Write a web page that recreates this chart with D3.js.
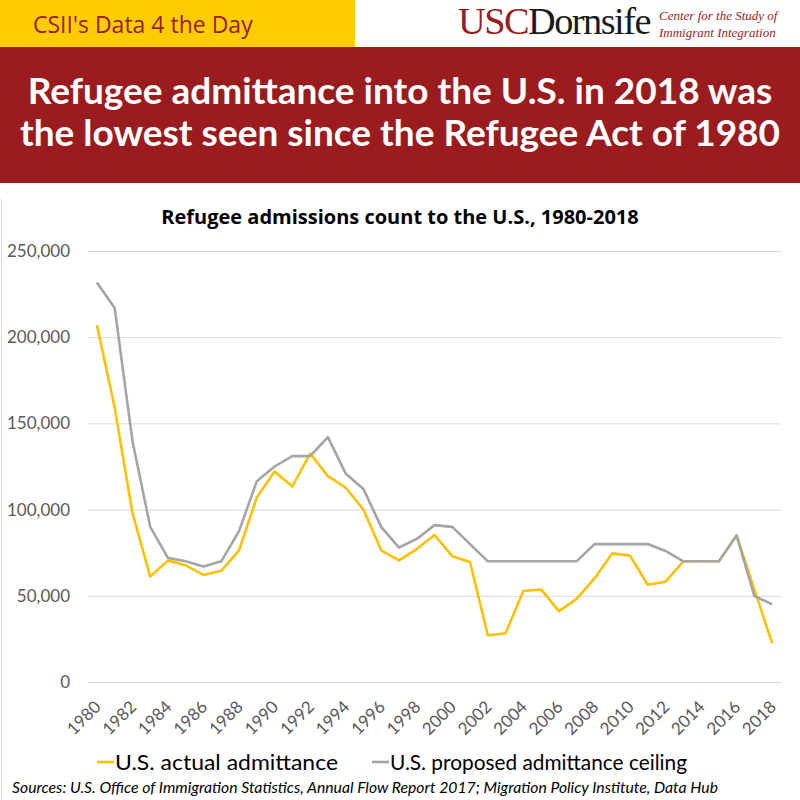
<!DOCTYPE html>
<html>
<head>
<meta charset="utf-8">
<script src="https://cdn.jsdelivr.net/npm/d3@7/dist/d3.min.js"></script>
<style>
  body { margin: 0; background: #fff; }
  svg { display: block; }
</style>
</head>
<body>
<div id="chart"></div>
<script>
// data
const years = d3.range(1980, 2019);
const actualAdmittance = [
  207100, 159300, 98100, 61200, 70400, 67700, 62100, 64500, 76400, 107000,
  122100, 113400, 132500, 119400, 112700, 100000, 76400, 70500, 77100, 85300,
  73000, 69600, 27100, 28300, 52800, 53700, 41100, 48200, 60100, 74600,
  73300, 56400, 58200, 69900, 70000, 69900, 85000, 53700, 22500
];
const ceiling = [
  231700, 217000, 140000, 90000, 72000, 70000, 67000, 70000, 87500, 116500,
  125000, 131000, 131000, 142000, 121000, 112000, 90000, 78000, 83000, 91000,
  90000, 80000, 70000, 70000, 70000, 70000, 70000, 70000, 80000, 80000,
  80000, 80000, 76000, 70000, 70000, 70000, 85000, 50000, 45000
];
const yTicks = [0, 50000, 100000, 150000, 200000, 250000];
const xTickYears = years.filter(y => y % 2 === 0);
const seriesNames = ['U.S. actual admittance', 'U.S. proposed admittance ceiling'];
const seriesColors = ['#ffc000', '#a5a5a5'];

const W = 800, H = 800;
const svg = d3.select('#chart').append('svg')
  .attr('width', W)
  .attr('height', H);

// header strip
svg.append('rect').attr('x', 0).attr('y', 0).attr('width', 355).attr('height', 47).attr('fill', '#ffcc00');
svg.append('text')
  .attr('x', 33).attr('y', 33)
  .attr('font-family', 'Open Sans, sans-serif')
  .attr('font-size', 23)
  .attr('fill', '#9b1c1f')
  .text("CSII's Data 4 the Day");

// logo
const logo = svg.append('text')
  .attr('x', 458).attr('y', 34)
  .attr('textLength', 192)
  .attr('lengthAdjust', 'spacingAndGlyphs')
  .attr('font-family', 'Liberation Serif, serif')
  .attr('font-size', 38)
  .attr('letter-spacing', -1.5);
logo.append('tspan').attr('fill', '#9a1c1f').text('USC');
logo.append('tspan').attr('fill', '#1a1a1a').text('Dornsife');
svg.append('text')
  .attr('x', 659).attr('y', 20)
  .attr('font-family', 'Liberation Serif, serif').attr('font-style', 'italic')
  .attr('font-size', 13).attr('fill', '#9a1c1f')
  .text('Center for the Study of');
svg.append('text')
  .attr('x', 659).attr('y', 37)
  .attr('font-family', 'Liberation Serif, serif').attr('font-style', 'italic')
  .attr('font-size', 13).attr('fill', '#9a1c1f')
  .text('Immigrant Integration');

// red banner
svg.append('rect').attr('x', 0).attr('y', 47).attr('width', W).attr('height', 136).attr('fill', '#9a1c1f');
const titleLines = [
  'Refugee admittance into the U.S. in 2018 was',
  'the lowest seen since the Refugee Act of 1980'
];
svg.selectAll('text.headline')
  .data(titleLines)
  .enter()
  .append('text')
  .attr('class', 'headline')
  .attr('x', 400)
  .attr('y', (d, i) => 104 + i * 42)
  .attr('text-anchor', 'middle')
  .attr('font-family', 'Lato, sans-serif')
  .attr('font-weight', 'bold')
  .attr('font-size', 37)
  .attr('fill', '#fff')
  .text(d => d);

// chart frame (left edge is visible in the reference)
svg.append('line')
  .attr('x1', 1.5).attr('x2', 1.5).attr('y1', 199).attr('y2', H)
  .attr('stroke', '#d9d9d9');

svg.append('text')
  .attr('x', 400).attr('y', 224)
  .attr('text-anchor', 'middle')
  .attr('font-family', 'Open Sans, sans-serif')
  .attr('font-weight', 'bold')
  .attr('font-size', 20)
  .attr('fill', '#000')
  .text('Refugee admissions count to the U.S., 1980-2018');

// scales
const x = d3.scaleBand()
  .domain(years)
  .range([88, 781]);
const y = d3.scaleLinear()
  .domain([0, 250000])
  .range([682, 251]);
const cx = d => x(d) + x.bandwidth() / 2;

// gridlines + y axis
const yAxis = svg.append('g')
  .attr('transform', 'translate(88,0)')
  .call(d3.axisLeft(y).tickValues(yTicks).tickSize(-693).tickPadding(18).tickFormat(d3.format(',')));
yAxis.select('.domain').remove();
yAxis.selectAll('.tick line').attr('stroke', '#d9d9d9');
yAxis.selectAll('.tick text')
  .attr('font-family', 'Lato, sans-serif')
  .attr('font-size', 17)
  .attr('fill', '#595959');

// x axis
const xAxis = svg.append('g')
  .attr('transform', 'translate(0,682)')
  .call(d3.axisBottom(x).tickValues(xTickYears).tickSize(0).tickPadding(0));
xAxis.select('.domain').remove();
xAxis.selectAll('.tick text')
  .attr('font-family', 'Lato, sans-serif')
  .attr('font-size', 17)
  .attr('fill', '#595959')
  .attr('text-anchor', 'end')
  .attr('dy', 0)
  .attr('transform', 'translate(5,26) rotate(-45)');

// lines
const line = d3.line()
  .x((d, i) => cx(years[i]))
  .y(d => y(d));
[actualAdmittance, ceiling].forEach((series, k) => {
  svg.append('path')
    .datum(series)
    .attr('d', line)
    .attr('fill', 'none')
    .attr('stroke', seriesColors[k])
    .attr('stroke-width', 2.6)
    .attr('stroke-linejoin', 'round');
});

// legend
const legendX = [97, 372];
const legendTextW = [223, 297];
const legend = svg.selectAll('g.legend')
  .data(seriesNames)
  .enter()
  .append('g')
  .attr('class', 'legend')
  .attr('transform', (d, i) => `translate(${legendX[i]},762)`);
legend.append('line')
  .attr('x1', 0).attr('x2', 17)
  .attr('stroke', (d, i) => seriesColors[i])
  .attr('stroke-width', 2.6);
legend.append('text')
  .attr('x', 18).attr('y', 8)
  .attr('textLength', (d, i) => legendTextW[i])
  .attr('lengthAdjust', 'spacingAndGlyphs')
  .attr('font-family', 'Lato, sans-serif')
  .attr('font-size', 22)
  .attr('fill', '#000')
  .text(d => d);

// source note
svg.append('text')
  .attr('x', 12).attr('y', 793)
  .attr('textLength', 706)
  .attr('lengthAdjust', 'spacingAndGlyphs')
  .attr('font-family', 'Lato, sans-serif')
  .attr('font-style', 'italic')
  .attr('font-size', 16)
  .attr('fill', '#000')
  .text('Sources: U.S. Office of Immigration Statistics, Annual Flow Report 2017; Migration Policy Institute, Data Hub');
</script>
</body>
</html>
